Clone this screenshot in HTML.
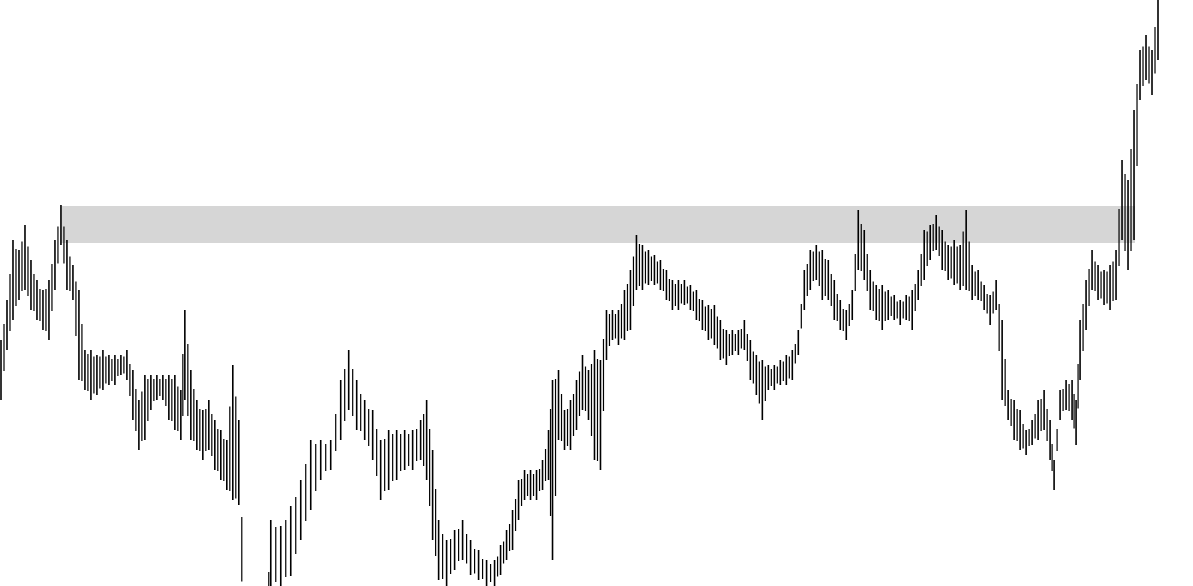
<!DOCTYPE html>
<html><head><meta charset="utf-8"><style>
html,body{margin:0;padding:0;background:#fff;width:1193px;height:586px;overflow:hidden}
svg{display:block;overflow:hidden}
</style></head><body>
<svg id="chart" width="1193" height="586" viewBox="0 0 1193 586" xmlns="http://www.w3.org/2000/svg">
<rect id="zone" fill="#d6d6d6"></rect>
<g id="bars"></g>
</svg>
<script>
const days=[0,6,12,18,24,30,36,42,48,54,60,66,72,78,84,90,96,102,108,114,120,126,132,138,144,150,156,162,168,174,180,184,190,196,202,208,214,220,226,232,238,244,250,256,262,266,270,280,290,300,310,320,330,340,348,356,364,372,380,388,396,404,412,420,426,432,438,446,454,462,470,478,486,494,500,506,512,518,524,530,536,542,548,552,558,564,570,576,582,588,594,600,606,612,618,624,630,636,642,648,654,660,666,672,678,684,690,696,702,708,714,720,726,732,738,744,750,756,762,768,774,780,786,792,798,804,810,816,822,828,834,840,846,852,858,864,870,876,882,888,894,900,906,912,918,924,930,936,942,948,954,960,966,972,978,984,990,996,1002,1008,1014,1020,1026,1032,1038,1044,1050,1054,1060,1066,1072,1076,1080,1086,1092,1098,1104,1110,1116,1122,1128,1134,1140,1146,1152,1158];
const highs=[246,286,346,336,361,326,306,296,306,346,381,346,321,296,236,236,231,236,231,231,231,236,216,186,211,211,211,211,211,211,196,276,216,186,176,186,166,156,146,221,166,-20,-30,-40,-40,-30,66,60,80,106,146,146,146,206,236,206,186,176,146,156,156,156,156,166,186,136,66,46,56,66,46,36,26,26,41,56,76,106,116,116,116,126,156,206,216,176,186,206,231,216,236,226,276,276,276,296,316,351,341,336,331,326,316,306,306,306,301,296,286,281,281,266,256,256,256,266,246,231,226,221,221,226,231,236,256,316,336,341,336,326,306,286,276,296,376,356,316,301,301,296,291,286,291,296,316,356,361,371,356,341,346,341,376,321,316,301,291,306,266,196,186,176,156,166,186,196,166,126,196,206,206,186,266,306,336,321,316,321,336,426,406,476,536,551,536,590];
const lows=[186,236,266,286,296,276,266,256,246,296,341,296,286,206,196,186,191,196,201,201,211,206,166,136,146,176,186,186,166,156,146,186,146,136,126,136,116,106,96,86,81,-80,-90,-100,-100,-90,0,0,10,46,76,106,116,146,176,156,146,126,86,96,106,116,116,126,106,46,6,0,16,26,11,6,0,0,11,26,36,66,86,86,86,96,106,26,146,136,136,156,176,166,126,116,226,246,241,246,256,296,296,301,301,296,286,276,276,281,276,266,256,246,241,226,221,231,231,236,206,191,166,196,196,201,201,206,231,276,296,306,286,286,266,256,246,266,316,306,276,266,256,266,266,261,266,256,286,306,326,336,316,306,301,296,296,286,286,276,261,276,186,166,146,136,131,141,146,156,126,96,166,176,166,141,206,256,296,286,281,276,286,346,316,346,486,506,491,526];
const zoneTop=380, zoneBottom=343, zoneStartDay=60, zoneEndDay=1135;
const N=highs.length;
const xs=d=>1+d*(1157/1158);
const ys=p=>Math.min(586,Math.max(0,586-p));
const z=document.getElementById('zone');
z.setAttribute('x',xs(zoneStartDay));
z.setAttribute('width',xs(zoneEndDay)-xs(zoneStartDay));
z.setAttribute('y',ys(zoneTop));
z.setAttribute('height',ys(zoneBottom)-ys(zoneTop));
const g=document.getElementById('bars');
for(let i=0;i<N;i++){
  const x=xs(days[i]);
  if(highs[i]>0){
    const l=document.createElementNS('http://www.w3.org/2000/svg','line');
    
    
    l.setAttribute('x1',x);l.setAttribute('x2',x);
    l.setAttribute('y1',ys(highs[i]));l.setAttribute('y2',ys(lows[i]));
    l.setAttribute('stroke','#000');l.setAttribute('stroke-width','1.6');
    g.appendChild(l);
  }
  if(i<N-1){
    const nx=xs(days[i+1]);
    const h2=(highs[i]+highs[i+1])/2, l2v=(lows[i]+lows[i+1])/2;
    if(h2-4>0){
      const l2=document.createElementNS('http://www.w3.org/2000/svg','line');
      
      
      const mx=(x+nx)/2;
      l2.setAttribute('x1',mx);l2.setAttribute('x2',mx);
      l2.setAttribute('y1',ys(h2-4));l2.setAttribute('y2',ys(l2v+4));
      l2.setAttribute('stroke','#000');l2.setAttribute('stroke-width','1.2');
      g.appendChild(l2);
    }
  }
}
</script>
</body></html>
